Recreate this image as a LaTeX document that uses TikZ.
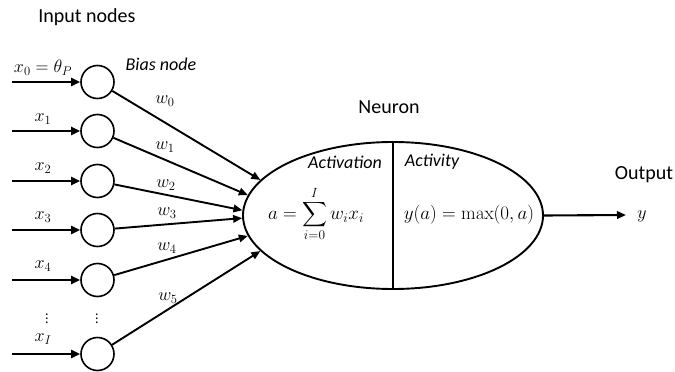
\RequirePackage{fix-cm}
\documentclass[tikz,border=0pt]{standalone}
\usepackage{amsmath}
\usepackage[no-math]{fontspec}
\setmainfont{Carlito}
\usetikzlibrary{shapes.geometric,arrows.meta}
\begin{document}
\begin{tikzpicture}[x=1pt,y=-1pt,
  inode/.style={circle,draw,line width=1.6pt,minimum size=33pt,inner sep=0pt},
  feed/.style={line width=2.6pt,-{Triangle[length=9pt,width=8pt]}},
  weight/.style={line width=1.9pt,-{Triangle[length=9pt,width=7.5pt]}},
  title/.style={font=\fontsize{20}{22}\selectfont},
  tag/.style={font=\fontsize{18}{20}\selectfont\itshape},
  sym/.style={font=\fontsize{18}{20}\selectfont,inner sep=1pt},
  vdot/.style={font=\fontsize{14}{16}\selectfont,inner sep=0pt},
  eq/.style={font=\fontsize{19}{21}\selectfont,inner sep=0pt}]
\useasboundingbox (0,0) rectangle (675,372);

% input nodes
\foreach \k/\yy in {0/82,1/131,2/181,3/230,4/280,I/354}{
  \node[inode] (in\k) at (97.5,\yy) {};
  \coordinate (src\k) at (12,\yy);
  \draw[feed] (src\k) -- (in\k);
}

% input labels
\node[sym] (lx0) at (43,68) {$x_0=\theta_P$};
\node[sym] (lx1) at (43,119) {$x_1$};
\node[sym] (lx2) at (43,168) {$x_2$};
\node[sym] (lx3) at (43,217) {$x_3$};
\node[sym] (lx4) at (43,266) {$x_4$};
\node[sym] (lxI) at (43,339) {$x_I$};
\node[vdot] (dotsA) at (47,316) {$\vdots$};
\node[vdot] (dotsB) at (97,316) {$\vdots$};

% neuron
\node[ellipse,draw,line width=1.9pt,minimum width=300pt,minimum height=147pt,inner sep=0pt]
  (neuron) at (393,215.5) {};
\draw[line width=1.9pt] (neuron.north) -- (neuron.south);

% weighted connections
\draw[weight] (in0) -- (neuron.165);
\draw[weight] (in1) -- (neuron.172);
\draw[weight] (in2) -- (neuron.178.8);
\draw[weight] (in3) -- (neuron.181.5);
\draw[weight] (in4) -- (neuron.188.5);
\draw[weight] (inI) -- (neuron.195);

\node[sym] (w0) at (165,101) {$w_0$};
\node[sym] (w1) at (165,147) {$w_1$};
\node[sym] (w2) at (166,185) {$w_2$};
\node[sym] (w3) at (167,213) {$w_3$};
\node[sym] (w4) at (167,248) {$w_4$};
\node[sym] (w5) at (168,298) {$w_5$};

% neuron contents
\node[tag,inner sep=1pt] (act) at (345,162) {Activation};
\node[tag,inner sep=1pt] (acty) at (432,162) {Activity};
\node[eq] (sum) at (316,214) {$a=\displaystyle\sum_{i=0}^{I} w_i x_i$};
\node[eq] (relu) at (469,215) {$y(a)=\max(0,a)$};

% output
\coordinate (outend) at (626,215);
\draw[weight,line width=2.1pt] (neuron.east) -- (outend);
\node[sym] (yout) at (642,216) {$y$};

% captions
\node[title] (tin) at (87,17) {Input nodes};
\node[tag] (tbias) at (161,64) {Bias node};
\node[title] (tneu) at (389,107) {Neuron};
\node[title] (tout) at (644,175) {Output};
\end{tikzpicture}
\end{document}
